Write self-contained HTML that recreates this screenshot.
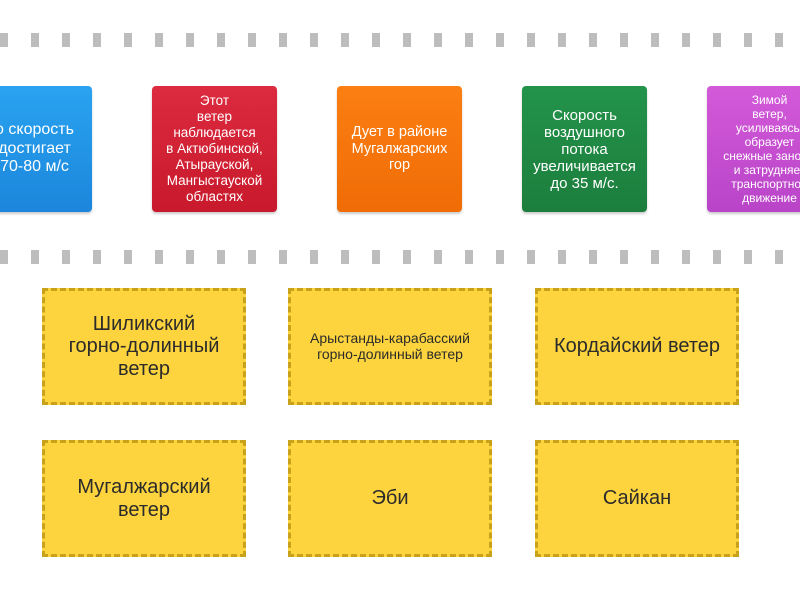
<!DOCTYPE html>
<html><head><meta charset="utf-8"><style>
body{margin:0;width:800px;height:600px;background:#fff;position:relative;overflow:hidden;font-family:"Liberation Sans",sans-serif}
.dash{position:absolute;left:0;width:800px;height:14px;background:repeating-linear-gradient(90deg,#bdbdbd 0 8px,transparent 8px 31px)}
.c{position:absolute;top:86px;width:125px;height:126px;border-radius:4px;color:#fff;display:flex;align-items:center;justify-content:center;text-align:center;box-shadow:0 2px 2px rgba(0,0,0,.2);white-space:nowrap}
.y{position:absolute;width:198px;height:111px;background:#fdd43d;border:3px dashed #c9a21c;display:flex;align-items:center;justify-content:center;text-align:center;color:#2b2b2b;font-size:20px;line-height:1.13}
</style></head><body>
<div class="dash" style="top:33px"></div>
<div class="dash" style="top:250px"></div>
<div class="c" style="left:-33px;background:linear-gradient(#2aa3f0,#1b86dc);font-size:16px;line-height:18.5px"><div style="margin-left:10px">о скорость<br>достигает<br>70-80 м/с</div></div>
<div class="c" style="left:152px;background:linear-gradient(#dc2a3e,#c81a2c);font-size:13.5px;line-height:16px">Этот<br>ветер<br>наблюдается<br>в Актюбинской,<br>Атырауской,<br>Мангыстауской<br>областях</div>
<div class="c" style="left:337px;background:linear-gradient(#fb7f12,#f06c06);font-size:14.5px;line-height:16.5px">Дует в районе<br>Мугалжарских<br>гор</div>
<div class="c" style="left:522px;background:linear-gradient(#23934a,#1c7e3d);font-size:15px;line-height:17px">Скорость<br>воздушного<br>потока<br>увеличивается<br>до 35 м/с.</div>
<div class="c" style="left:707px;background:linear-gradient(#d35ad9,#b944c8);font-size:12px;line-height:14px">Зимой<br>ветер,<br>усиливаясь,<br>образует<br>снежные заносы<br>и затрудняет<br>транспортное<br>движение</div>
<div class="y" style="left:42px;top:288px">Шиликский<br>горно-долинный<br>ветер</div>
<div class="y" style="left:288px;top:288px;font-size:14px">Арыстанды-карабасский<br>горно-долинный ветер</div>
<div class="y" style="left:535px;top:288px">Кордайский ветер</div>
<div class="y" style="left:42px;top:440px">Мугалжарский<br>ветер</div>
<div class="y" style="left:288px;top:440px">Эби</div>
<div class="y" style="left:535px;top:440px">Сайкан</div>
</body></html>
